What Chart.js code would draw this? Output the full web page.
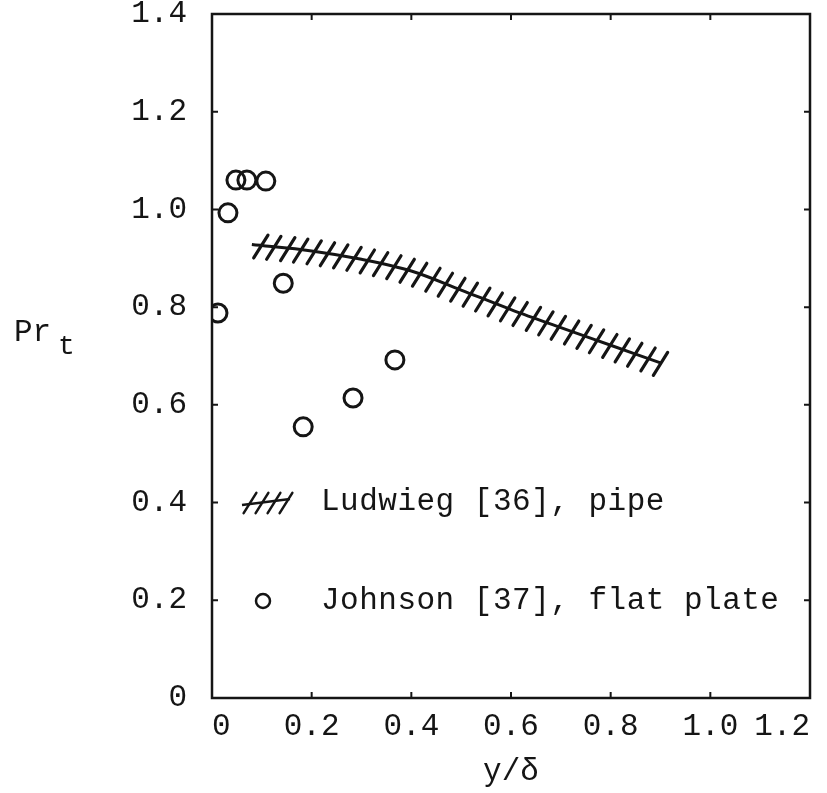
<!DOCTYPE html>
<html>
<head>
<meta charset="utf-8">
<script src="https://cdn.jsdelivr.net/npm/chart.js@4/dist/chart.umd.min.js"></script>
<style>
  html, body { margin: 0; padding: 0; background: #fff; }
  #wrap { width: 827px; height: 793px; }
</style>
</head>
<body>
<div id="wrap"><canvas id="prtChart" width="827" height="793"></canvas></div>
<script>
// Ludwieg [36], pipe (hatched band)
var ludwiegX = [0.08, 0.2, 0.3, 0.4, 0.5, 0.6, 0.7, 0.8, 0.9];
var ludwiegY = [0.928, 0.915, 0.898, 0.874, 0.835, 0.795, 0.758, 0.722, 0.686];

// Johnson [37], flat plate (open circles)
var johnsonX = [0.012, 0.032, 0.048, 0.07, 0.108, 0.143, 0.183, 0.283, 0.367];
var johnsonY = [0.788, 0.993, 1.06, 1.06, 1.058, 0.849, 0.555, 0.614, 0.692];

var xTicks = [0, 0.2, 0.4, 0.6, 0.8, 1.0, 1.2];
var yTicks = [0, 0.2, 0.4, 0.6, 0.8, 1.0, 1.2, 1.4];

var legendLabels = ['Ludwieg [36], pipe', 'Johnson [37], flat plate'];

var ink = '#151515';
var mono = '"Liberation Mono", "DejaVu Sans Mono", monospace';

function fmt(v) {
  return v === 0 ? '0' : v.toFixed(1);
}

function toPoints(xs, ys) {
  var pts = [];
  for (var i = 0; i < xs.length; i++) pts.push({x: xs[i], y: ys[i]});
  return pts;
}

function drawHatch(ctx, cx, cy, len) {
  var a = 58 * Math.PI / 180;
  var dx = Math.cos(a) * len / 2, dy = Math.sin(a) * len / 2;
  ctx.beginPath();
  ctx.moveTo(cx - dx, cy + dy);
  ctx.lineTo(cx + dx, cy - dy);
  ctx.stroke();
}

// hatch marks along the drawn Ludwieg curve
var hatchPlugin = {
  id: 'hatch',
  afterDatasetsDraw: function(chart) {
    var meta = chart.getDatasetMeta(0);
    var pts = meta.data;
    var ctx = chart.ctx;
    ctx.save();
    ctx.strokeStyle = ink;
    ctx.lineWidth = 3.2;
    ctx.lineCap = 'round';
    var spacing = 13.5, carry = 5;
    for (var i = 0; i < pts.length - 1; i++) {
      var p0 = pts[i], p1 = pts[i + 1];
      var c1x = p0.cp2x !== undefined ? p0.cp2x : p0.x;
      var c1y = p0.cp2y !== undefined ? p0.cp2y : p0.y;
      var c2x = p1.cp1x !== undefined ? p1.cp1x : p1.x;
      var c2y = p1.cp1y !== undefined ? p1.cp1y : p1.y;
      var prevX = p0.x, prevY = p0.y;
      for (var s = 1; s <= 60; s++) {
        var t = s / 60, u = 1 - t;
        var bx = u*u*u*p0.x + 3*u*u*t*c1x + 3*u*t*t*c2x + t*t*t*p1.x;
        var by = u*u*u*p0.y + 3*u*u*t*c1y + 3*u*t*t*c2y + t*t*t*p1.y;
        var d = Math.hypot(bx - prevX, by - prevY);
        carry += d;
        if (carry >= spacing) {
          carry -= spacing;
          drawHatch(ctx, bx, by + 1, 27);
        }
        prevX = bx; prevY = by;
      }
    }
    ctx.restore();
  }
};

// frame, inward ticks, legend and axis titles
var framePlugin = {
  id: 'frame',
  afterDraw: function(chart) {
    var ctx = chart.ctx;
    var a = chart.chartArea;
    var xs = chart.scales.x, ys = chart.scales.y;
    ctx.save();
    ctx.strokeStyle = ink;
    ctx.lineWidth = 2.5;
    ctx.strokeRect(a.left, a.top, a.right - a.left, a.bottom - a.top);

    ctx.lineWidth = 2;
    xTicks.forEach(function(v) {
      var px = xs.getPixelForValue(v);
      ctx.beginPath();
      ctx.moveTo(px, a.bottom); ctx.lineTo(px, a.bottom - 6);
      ctx.moveTo(px, a.top); ctx.lineTo(px, a.top + 6);
      ctx.stroke();
    });
    yTicks.forEach(function(v) {
      var py = ys.getPixelForValue(v);
      ctx.beginPath();
      ctx.moveTo(a.left, py); ctx.lineTo(a.left + 6, py);
      ctx.moveTo(a.right, py); ctx.lineTo(a.right - 6, py);
      ctx.stroke();
    });

    // legend
    ctx.fillStyle = ink;
    ctx.font = '31px ' + mono;
    ctx.letterSpacing = '0.5px';
    ctx.textBaseline = 'middle';
    ctx.textAlign = 'left';
    var ly1 = a.top + 488, ly2 = a.top + 587;
    ctx.lineWidth = 2.5;
    ctx.beginPath();
    ctx.moveTo(a.left + 30, ly1 + 3); ctx.lineTo(a.left + 78, ly1 - 3);
    ctx.stroke();
    ctx.lineCap = 'round';
    [38, 50, 62, 74].forEach(function(dx) {
      drawHatch(ctx, a.left + dx, ly1 + 1, 24);
    });
    ctx.fillText(legendLabels[0], a.left + 109, ly1);
    ctx.lineWidth = 2.5;
    ctx.beginPath();
    ctx.arc(a.left + 51, ly2, 7, 0, Math.PI * 2);
    ctx.stroke();
    ctx.fillText(legendLabels[1], a.left + 109, ly2);

    // axis titles
    ctx.letterSpacing = '0px';
    ctx.textAlign = 'left';
    ctx.fillText('Pr', 14, 333);
    ctx.font = '28px ' + mono;
    ctx.fillText('t', 58, 347);
    ctx.font = '31px ' + mono;
    ctx.textAlign = 'center';
    ctx.fillText('y/\u03b4', (a.left + a.right) / 2, 772);
    ctx.restore();
  }
};

var prtChart = new Chart(document.getElementById('prtChart'), {
  type: 'scatter',
  data: {
    datasets: [{
      label: legendLabels[0],
      data: toPoints(ludwiegX, ludwiegY),
      showLine: true,
      borderColor: ink,
      borderWidth: 3,
      pointRadius: 0,
      cubicInterpolationMode: 'monotone',
      fill: false
    }, {
      label: legendLabels[1],
      data: toPoints(johnsonX, johnsonY),
      showLine: false,
      pointStyle: 'circle',
      pointRadius: 9,
      pointBorderWidth: 3,
      borderColor: ink,
      backgroundColor: 'rgba(0,0,0,0)'
    }]
  },
  options: {
    responsive: false,
    animation: false,
    layout: { padding: { top: 14, right: 17, left: 0, bottom: 0 } },
    plugins: {
      legend: { display: false },
      tooltip: { enabled: false }
    },
    scales: {
      x: {
        type: 'linear',
        min: 0,
        max: 1.2,
        afterBuildTicks: function(scale) {
          scale.ticks = xTicks.map(function(v) { return {value: v}; });
        },
        afterFit: function(scale) {
          scale.height = 95;
          scale.paddingLeft = 0;
          scale.paddingRight = 0;
        },
        grid: { display: false },
        border: { display: false },
        ticks: {
          align: 'inner',
          padding: 2,
          maxRotation: 0,
          color: ink,
          font: { family: mono, size: 31 },
          callback: function(v) { return fmt(v); }
        }
      },
      y: {
        type: 'linear',
        min: 0,
        max: 1.4,
        afterBuildTicks: function(scale) {
          scale.ticks = yTicks.map(function(v) { return {value: v}; });
        },
        afterFit: function(scale) {
          scale.width = 212;
          scale.paddingTop = 0;
          scale.paddingBottom = 0;
        },
        grid: { display: false },
        border: { display: false },
        ticks: {
          padding: 17,
          color: ink,
          font: { family: mono, size: 31 },
          callback: function(v) { return fmt(v); }
        }
      }
    }
  },
  plugins: [hatchPlugin, framePlugin]
});
</script>
</body>
</html>
